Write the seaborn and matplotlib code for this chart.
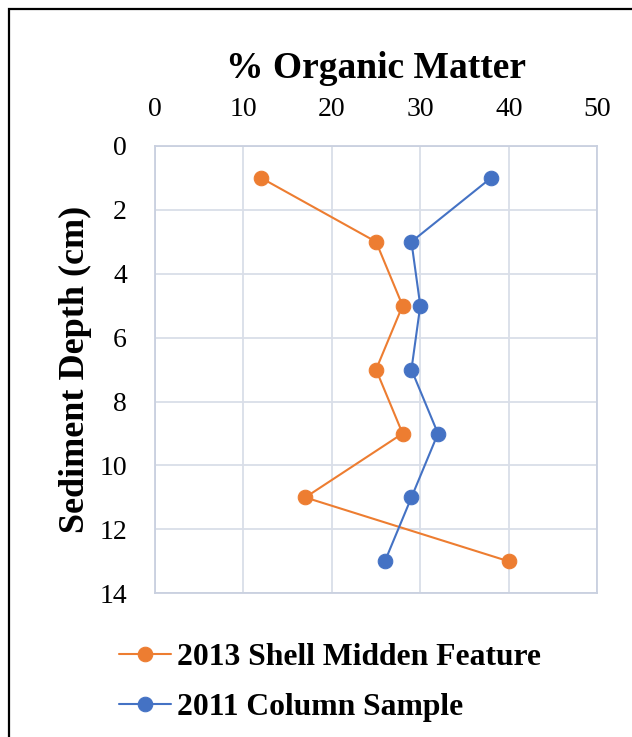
import matplotlib
matplotlib.use("Agg")
import matplotlib.pyplot as plt
from matplotlib.patches import Rectangle
import pandas as pd
import seaborn as sns

depth = [1, 3, 5, 7, 9, 11, 13]
midden_2013 = [12, 25, 28, 25, 28, 17, 40]
column_2011 = [38, 29, 30, 29, 32, 29, 26]
series_names = ["2013 Shell Midden Feature", "2011 Column Sample"]
colors = ["#ED7D31", "#4472C4"]
x_ticks = [0, 10, 20, 30, 40, 50]
y_ticks = [0, 2, 4, 6, 8, 10, 12, 14]

sns.set_style("white")
plt.rcParams["font.family"] = ["Liberation Serif", "DejaVu Serif"]
plt.rcParams["text.color"] = "black"
plt.rcParams["axes.labelcolor"] = "black"
plt.rcParams["xtick.color"] = "black"
plt.rcParams["ytick.color"] = "black"

fig = plt.figure(figsize=(6.32, 7.37), dpi=100)
ax = fig.add_axes([0.245, 0.195, 0.70, 0.607])

for name, vals, col in zip(series_names, [midden_2013, column_2011], colors):
    df = pd.DataFrame({"om": vals, "depth": depth})
    sns.lineplot(data=df, x="om", y="depth", sort=False, orient="y",
                 estimator=None, ax=ax, color=col,
                 marker="o", markersize=10.5, markeredgecolor=col, linewidth=1.5,
                 label=name)

ax.set_xlim(0, 50)
ax.set_ylim(14, 0)
ax.set_xticks(x_ticks)
ax.set_yticks(y_ticks)
ax.xaxis.tick_top()
ax.xaxis.set_label_position("top")
ax.tick_params(axis="x", labelsize=20, length=0, pad=17)
ax.tick_params(axis="y", labelsize=20, length=0, pad=20)
ax.grid(True, color="#D9DEE8", linewidth=1.3)
for s in ax.spines.values():
    s.set_color("#C9D0DF")
    s.set_linewidth(1.3)

ax.set_xlabel("% Organic Matter", fontsize=27, fontweight="bold", labelpad=14)
ax.set_ylabel("Sediment Depth (cm)", fontsize=26, fontweight="bold", labelpad=5)

leg = ax.legend(loc="upper left", bbox_to_anchor=(0.168, 0.145),
                bbox_transform=fig.transFigure, frameon=False,
                prop={"size": 22.8, "weight": "bold"}, handlelength=1.65,
                handletextpad=0.2, labelspacing=0.65, borderaxespad=0)

fig.patches.append(Rectangle((0.014, -0.2), 1.5, 1.188, transform=fig.transFigure,
                             fill=False, edgecolor="black", linewidth=1.6))

fig.savefig("out.png", dpi=100)
